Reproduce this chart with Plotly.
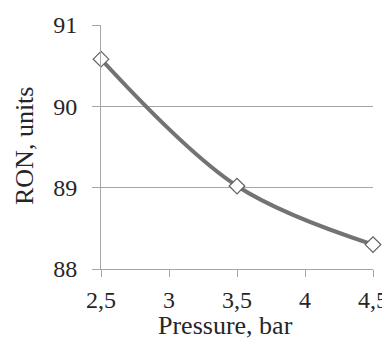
import plotly.graph_objects as go

pressure = [2.5, 3.5, 4.5]
ron = [90.58, 89.02, 88.30]
x_ticks = [2.5, 3, 3.5, 4, 4.5]
x_tick_labels = ["2,5", "3", "3,5", "4", "4,5"]
y_ticks = [88, 89, 90, 91]

font_family = "Liberation Serif"
grid_col = "#a6a6a6"
txt_col = "#262626"

# page body adds an 8px offset; size the figure to the visible area
OFF = 8
W, H = 390 - OFF, 339 - OFF
L, T = 101 - OFF, 25 - OFF
R = W - (373 - OFF)
B = H - (269 - OFF)
pw, ph = W - L - R, H - T - B

fig = go.Figure()
fig.add_trace(go.Scatter(
    x=pressure, y=ron, mode="lines+markers",
    line=dict(color="#737373", width=4, shape="spline", smoothing=1),
    marker=dict(symbol="diamond", size=12, color="white",
                line=dict(color="#606060", width=1.2)),
    cliponaxis=False,
    showlegend=False,
))

fig.update_layout(
    width=W, height=H,
    margin=dict(l=L, r=R, t=T, b=B),
    plot_bgcolor="white", paper_bgcolor="white",
    font=dict(family=font_family, size=24, color=txt_col),
)
fig.update_xaxes(
    range=[2.5, 4.5], tickvals=x_ticks, ticktext=x_tick_labels,
    showgrid=False, zeroline=False, automargin=False,
    showline=True, linecolor=grid_col, linewidth=1,
    ticks="outside", ticklen=7, tickcolor=grid_col, tickwidth=1,
    ticklabelstandoff=2,
)
fig.update_yaxes(
    range=[88, 91], tickvals=y_ticks,
    showgrid=True, gridcolor=grid_col, gridwidth=1, zeroline=False,
    automargin=False,
    showline=True, linecolor=grid_col, linewidth=1,
    ticks="outside", ticklen=8, tickcolor=grid_col, tickwidth=1,
    ticklabelstandoff=10,
)

fig.add_annotation(
    text="Pressure, bar", xref="paper", yref="paper",
    x=(225 - 101) / pw, y=(269 - 325) / ph,
    xanchor="center", yanchor="middle", showarrow=False,
    font=dict(size=26, family=font_family, color=txt_col),
)
fig.add_annotation(
    text="RON, units", xref="paper", yref="paper",
    x=(24 - 101) / pw, y=(269 - 146) / ph, textangle=-90,
    xanchor="center", yanchor="middle", showarrow=False,
    font=dict(size=26, family=font_family, color=txt_col),
)

fig.write_html("out.html")
